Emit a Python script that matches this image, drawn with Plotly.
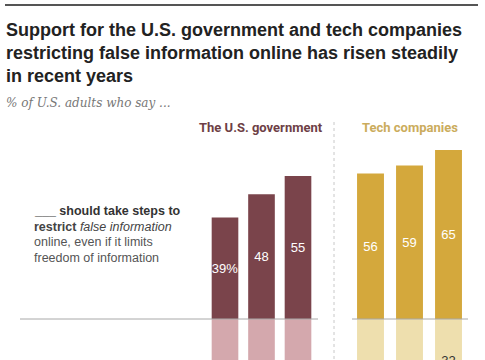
import plotly.graph_objects as go

years = ["2018", "2021", "2023"]
gov_restrict = [39, 48, 55]
gov_protect = [58, 50, 44]
tech_restrict = [56, 59, 65]
tech_protect = [42, 40, 32]

title_lines = [
    "Support for the U.S. government and tech companies",
    "restricting false information online has risen steadily",
    "in recent years",
]

W, H = 485, 360
BASE_PX = 319
PX_PER_UNIT = 2.6
y_max = BASE_PX / PX_PER_UNIT
y_min = -(H - BASE_PX) / PX_PER_UNIT

def px(x):
    return x / W

def py(y):
    return 1 - y / H

def labels(vals, first_pct):
    out = []
    for i, v in enumerate(vals):
        out.append(f"{v}%" if (i == 0 and first_pct) else f"{v}")
    return out

GOV_DARK = "#7a444b"
GOV_LIGHT = "#d4a8ad"
TECH_DARK = "#d4a83c"
TECH_LIGHT = "#eedfae"

fig = go.Figure()
label_font = dict(family="Liberation Sans, Arial, sans-serif", size=13)

def bar(vals, xa, width, color, txtcolor, pct):
    return go.Bar(x=years, y=vals, xaxis=xa, yaxis="y", width=width,
                  marker=dict(color=color, line=dict(width=0)),
                  text=labels([abs(v) for v in vals], pct), textposition="inside",
                  insidetextanchor="middle", textangle=0, constraintext="none",
                  textfont=dict(color=txtcolor, **label_font), hoverinfo="skip")

fig.add_trace(bar(gov_restrict, "x", 0.73, GOV_DARK, "white", True))
fig.add_trace(bar([-v for v in gov_protect], "x", 0.73, GOV_LIGHT, "#333333", True))
fig.add_trace(bar(tech_restrict, "x2", 0.69, TECH_DARK, "white", False))
fig.add_trace(bar([-v for v in tech_protect], "x2", 0.69, TECH_LIGHT, "#333333", False))

axis_hidden = dict(showgrid=False, zeroline=False, showticklabels=False, showline=False, ticks="")

fig.update_layout(
    width=W, height=H,
    margin=dict(l=0, r=0, t=0, b=0),
    paper_bgcolor="white", plot_bgcolor="rgba(0,0,0,0)",
    showlegend=False, barmode="overlay",
    xaxis=dict(domain=[px(206.75), px(316.25)], type="category", anchor="y", **axis_hidden),
    xaxis2=dict(domain=[px(351), px(468)], type="category", anchor="y", **axis_hidden),
    yaxis=dict(domain=[0, 1], range=[y_min, y_max], **axis_hidden),
)

shapes = [
    dict(type="line", xref="paper", yref="paper", x0=px(5), x1=px(478), y0=py(5), y1=py(5),
         line=dict(color="#555555", width=2)),
    dict(type="line", xref="paper", yref="paper", x0=px(20), x1=px(318), y0=py(BASE_PX), y1=py(BASE_PX),
         line=dict(color="#a8a8a8", width=1)),
    dict(type="line", xref="paper", yref="paper", x0=px(352), x1=px(468), y0=py(BASE_PX), y1=py(BASE_PX),
         line=dict(color="#a8a8a8", width=1)),
    dict(type="line", xref="paper", yref="paper", x0=px(334), x1=px(334), y0=py(122), y1=py(360),
         line=dict(color="#c8c8c8", width=1, dash="dot")),
]
fig.update_layout(shapes=shapes)

title_font = dict(family="Liberation Sans, Arial, sans-serif", size=18, color="#222222")
annotations = []
for i, line in enumerate(title_lines):
    annotations.append(dict(text=f"<b>{line}</b>", xref="paper", yref="paper",
                            x=px(4), y=py(30 + 23 * i), xanchor="left", yanchor="middle",
                            align="left", showarrow=False, font=title_font))
annotations += [
    dict(text="<i>% of U.S. adults who say ...</i>",
         xref="paper", yref="paper", x=px(4), y=py(103), xanchor="left", yanchor="middle",
         align="left", showarrow=False,
         font=dict(family="DejaVu Serif, Liberation Serif, serif", size=12, color="#777777")),
    dict(text="<b>The U.S. government</b>",
         xref="paper", yref="paper", x=px(261), y=py(127), xanchor="center", yanchor="middle",
         showarrow=False, font=dict(family="Roboto, Liberation Sans, sans-serif", size=13, color="#6e3f46")),
    dict(text="<b>Tech companies</b>",
         xref="paper", yref="paper", x=px(409.5), y=py(127), xanchor="center", yanchor="middle",
         showarrow=False, font=dict(family="Roboto, Liberation Sans, sans-serif", size=13, color="#cbac5c")),
]
left_top = [("<b>___ should take steps to</b>", "#333333"),
            ("<b>restrict</b> <i>false information</i>", "#444444"),
            ("online, even if it limits", "#555555"),
            ("freedom of information", "#555555")]
left_bottom = [("<b>___ should take steps to</b>", "#999999")]
for i, (line, col) in enumerate(left_top):
    annotations.append(dict(text=line, xref="paper", yref="paper", x=px(32), y=py(211 + 15.7 * i),
                            xanchor="left", yanchor="middle", align="left", showarrow=False,
                            font=dict(family="Liberation Sans, Arial, sans-serif", size=12.5, color=col)))
for i, (line, col) in enumerate(left_bottom):
    annotations.append(dict(text=line, xref="paper", yref="paper", x=px(32), y=py(368 + 15.7 * i),
                            xanchor="left", yanchor="middle", align="left", showarrow=False,
                            font=dict(family="Liberation Sans, Arial, sans-serif", size=12.5, color=col)))
fig.update_layout(annotations=annotations)

fig.write_html("out.html", config={"displayModeBar": False},
               post_script="document.body.style.margin='0px';")
